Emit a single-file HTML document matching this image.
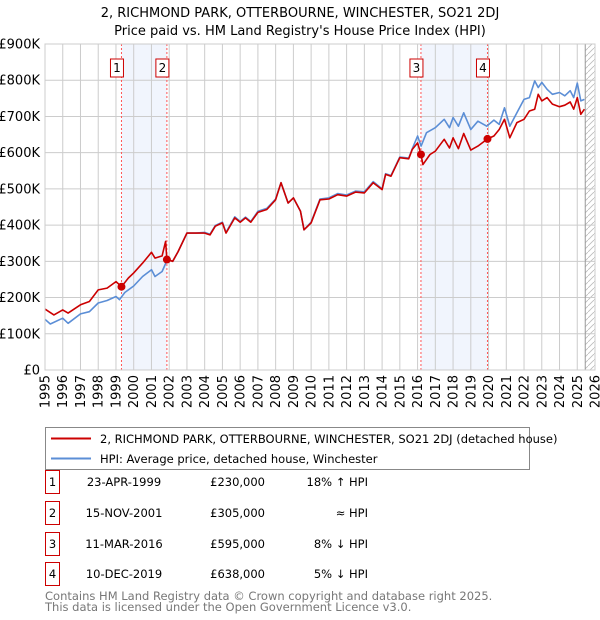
<!DOCTYPE html>
<html><head><meta charset="utf-8"><style>
body{margin:0;background:#fff;font-family:"Liberation Sans","DejaVu Sans",sans-serif;}
#wrap{position:relative;width:600px;height:620px;overflow:hidden;}
svg text{font-family:"DejaVu Sans","Liberation Sans",sans-serif;}
</style></head><body>
<div id="wrap">
<svg id="chart" width="600" height="620"></svg>
</div>
<script>
const yearTicks=[1995,1996,1997,1998,1999,2000,2001,2002,2003,2004,2005,2006,2007,2008,2009,2010,2011,2012,2013,2014,2015,2016,2017,2018,2019,2020,2021,2022,2023,2024,2025,2026];
const valueTicks=[0,100000,200000,300000,400000,500000,600000,700000,800000,900000];
const valueTickLabels=["£0","£100K","£200K","£300K","£400K","£500K","£600K","£700K","£800K","£900K"];
const redYears=[1995,1995.5,1996,1996.3,1997,1997.5,1998,1998.5,1999,1999.31,1999.7,2000,2000.5,2001,2001.2,2001.6,2001.8,2001.87,2002.2,2002.5,2003,2003.5,2004,2004.3,2004.6,2005,2005.2,2005.7,2006,2006.3,2006.6,2007,2007.5,2008,2008.3,2008.7,2009,2009.4,2009.6,2010,2010.5,2011,2011.5,2012,2012.5,2013,2013.5,2014,2014.2,2014.5,2015,2015.5,2015.7,2016,2016.19,2016.3,2016.7,2017,2017.5,2017.8,2018,2018.3,2018.6,2019,2019.4,2019.94,2020.3,2020.6,2020.9,2021.2,2021.6,2022,2022.3,2022.6,2022.8,2023,2023.3,2023.6,2024,2024.3,2024.6,2024.8,2025,2025.2,2025.4];
const redValues=[168,152,166,157,180,189,221,226,244,230,254,268,295,325,309,315,355,305,300,327,378,378,378,373,397,406,378,420,408,420,408,435,443,470,517,461,475,438,387,406,470,472,484,480,491,489,517,498,540,535,586,583,609,627,595,567,595,604,637,613,641,611,653,607,618,638,646,664,692,641,683,692,715,720,761,743,752,734,727,731,740,720,752,706,720];
const hpiYears=[1995,1995.3,1996,1996.3,1997,1997.5,1998,1998.5,1999,1999.2,1999.5,2000,2000.5,2001,2001.2,2001.6,2001.9,2002.2,2002.5,2003,2003.5,2004,2004.3,2004.6,2005,2005.2,2005.7,2006,2006.3,2006.6,2007,2007.5,2008,2008.3,2008.7,2009,2009.4,2009.6,2010,2010.5,2011,2011.5,2012,2012.5,2013,2013.5,2014,2014.2,2014.5,2015,2015.5,2015.7,2016,2016.2,2016.5,2017,2017.5,2017.8,2018,2018.3,2018.6,2019,2019.4,2019.9,2020.3,2020.6,2020.9,2021.2,2021.6,2022,2022.3,2022.6,2022.8,2023,2023.3,2023.6,2024,2024.3,2024.6,2024.8,2025,2025.2,2025.4];
const hpiValues=[140,127,143,129,155,161,185,192,203,194,214,232,258,277,258,272,305,300,327,378,378,380,375,399,408,380,423,410,422,410,438,446,472,517,461,475,438,387,408,472,475,487,483,494,492,520,500,542,537,588,585,611,646,618,655,669,692,669,697,673,710,664,687,673,690,678,724,673,710,747,752,798,780,794,775,761,766,757,771,752,792,743,747];
const saleYears=[1999.31,2001.87,2016.19,2019.94];
const saleValues=[230,305,595,638];
const saleLabels=["1","2","3","4"];
const saleDates=["23-APR-1999","15-NOV-2001","11-MAR-2016","10-DEC-2019"];
const salePrices=["£230,000","£305,000","£595,000","£638,000"];
const saleDiffs=["18% ↑ HPI","≈ HPI","8% ↓ HPI","5% ↓ HPI"];

const NS="http://www.w3.org/2000/svg";
const svg=document.getElementById('chart');
const X0=45,X1=595,Y0=370,Y1=44;
const xs=y=>X0+(y-1995)/(2026-1995)*(X1-X0);
const ys=v=>Y0-v/900000*(Y0-Y1);
function el(tag,attrs,parent){const e=document.createElementNS(NS,tag);for(const k in attrs)e.setAttribute(k,attrs[k]);(parent||svg).appendChild(e);return e;}

// title
let t=el('text',{x:300,y:17,'text-anchor':'middle','font-size':13,fill:'#000'});t.textContent="2, RICHMOND PARK, OTTERBOURNE, WINCHESTER, SO21 2DJ";

t=el('text',{x:300,y:35,'text-anchor':'middle','font-size':13,fill:'#000'});t.textContent="Price paid vs. HM Land Registry's House Price Index (HPI)";


// shaded bands
for(let i=0;i<saleYears.length;i+=2){
 const r=el('rect',{x:xs(saleYears[i]),y:Y1,width:xs(saleYears[i+1])-xs(saleYears[i]),height:Y0-Y1,fill:'#eef3fc',opacity:0.8});
 
}
// hatch
const defs=el('defs',{});
const pat=el('pattern',{id:'hatch',width:6,height:6,patternUnits:'userSpaceOnUse'},defs);
el('path',{d:'M0,6 L6,0',stroke:'#bbb','stroke-width':0.8},pat);
const hx=xs(2025.45);
let h=el('rect',{x:hx,y:Y1,width:X1-hx,height:Y0-Y1,fill:'url(#hatch)'});


// grid
const g=el('g',{});
yearTicks.forEach(y=>el('line',{x1:xs(y),x2:xs(y),y1:Y1,y2:Y0,stroke:'#ccc','stroke-width':1},g));
valueTicks.forEach(v=>el('line',{x1:X0,x2:X1,y1:ys(v),y2:ys(v),stroke:'#ccc','stroke-width':1},g));
el('line',{x1:hx,x2:hx,y1:Y1,y2:Y0,stroke:'#999','stroke-width':1},g);

// y labels
valueTicks.forEach((v,i)=>{const e=el('text',{x:40,y:ys(v)+4.5,'text-anchor':'end','font-size':13,fill:'#000'});e.textContent=valueTickLabels[i];
 });
// x labels
yearTicks.forEach(y=>{const x=xs(y)+4.5,yy=375;const e=el('text',{x:x,y:yy,transform:`rotate(-90 ${x} ${yy})`,'text-anchor':'end','font-size':13,fill:'#000'});e.textContent=y;
 });

// sale lines and boxes
saleYears.forEach((y,i)=>{
 const l=el('line',{x1:xs(y),x2:xs(y),y1:Y1,y2:Y0,stroke:'#f55','stroke-width':1,'stroke-dasharray':'2,2'});
 
 const bx=xs(y)-11;
 const r=el('rect',{x:bx,y:59,width:13,height:18,fill:'#fff',stroke:'#c00','stroke-width':1});
 
 const tx=el('text',{x:bx+6.5,y:72,'text-anchor':'middle','font-size':12,fill:'#000'});tx.textContent=saleLabels[i];
});

// series
function path(xa,va,color,name){
 let d='';xa.forEach((y,i)=>{d+=(i?'L':'M')+xs(y).toFixed(1)+','+ys(va[i]*1000).toFixed(1);});
 const p=el('path',{d:d,fill:'none',stroke:color,'stroke-width':1.6,'stroke-linejoin':'round'});
 
}
path(hpiYears,hpiValues,'#5b8ed6','hpi-line');
path(redYears,redValues,'#cc0000','price-paid-line');
saleYears.forEach((y,i)=>{const c=el('circle',{cx:xs(y),cy:ys(saleValues[i]*1000),r:4,fill:'#cc0000'});
 });

// frame
el('rect',{x:X0,y:Y1,width:X1-X0,height:Y0-Y1,fill:'none',stroke:'#ccc'});

// legend
const lg=el('g',{});
el('rect',{x:45.5,y:427.5,width:484,height:42,fill:'#fff',stroke:'#888'},lg);
el('line',{x1:51,x2:91,y1:438.5,y2:438.5,stroke:'#cc0000','stroke-width':2},lg);
el('line',{x1:51,x2:91,y1:458.5,y2:458.5,stroke:'#5b8ed6','stroke-width':2},lg);
let lt=el('text',{x:100,y:443,'font-size':11.5,fill:'#000'},lg);lt.textContent="2, RICHMOND PARK, OTTERBOURNE, WINCHESTER, SO21 2DJ (detached house)";

lt=el('text',{x:100,y:463,'font-size':11.5,fill:'#000'},lg);lt.textContent="HPI: Average price, detached house, Winchester";


// table
const rowY=[482,513,544,574];
saleLabels.forEach((s,i)=>{
 const tg=el('g',{});
 const y=rowY[i];
 el('rect',{x:45.5,y:y-11.5,width:14,height:23,fill:'#fff',stroke:'#c00'},tg);
 let e=el('text',{x:52.5,y:y+4,'text-anchor':'middle','font-size':11.5},tg);e.textContent=s;
 e=el('text',{x:124,y:y+4,'text-anchor':'middle','font-size':11.5},tg);e.textContent=saleDates[i];
 e=el('text',{x:265,y:y+4,'text-anchor':'end','font-size':11.5},tg);e.textContent=salePrices[i];
 e=el('text',{x:368,y:y+4,'text-anchor':'end','font-size':11.5},tg);e.textContent=saleDiffs[i];
});
let f=el('text',{x:45,y:600,'font-size':11.5,fill:'#777'});f.textContent="Contains HM Land Registry data © Crown copyright and database right 2025.";

f=el('text',{x:45,y:611,'font-size':11.5,fill:'#777'});f.textContent="This data is licensed under the Open Government Licence v3.0.";

</script>
</body></html>
